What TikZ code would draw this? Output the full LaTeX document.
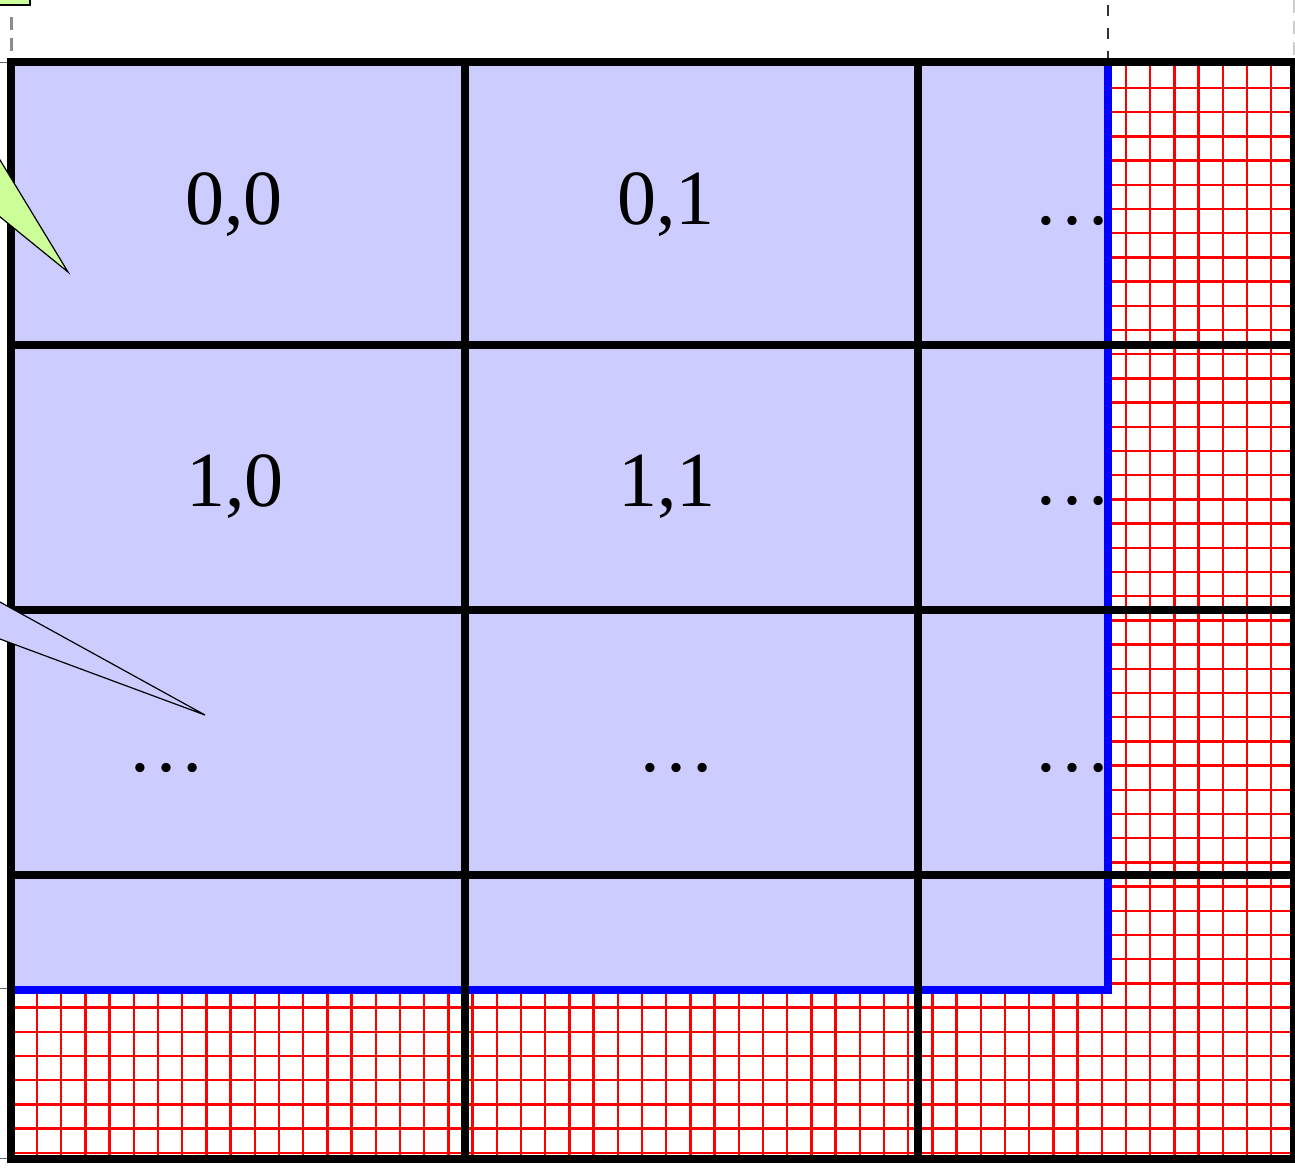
\documentclass[tikz,border=0pt]{standalone}
\usepackage{fontspec}
\setmainfont{Liberation Serif}
\definecolor{lav}{RGB}{204,204,255}
\definecolor{callgreen}{RGB}{204,255,153}
\begin{document}
\begin{tikzpicture}[x=1pt,y=-1pt,
  frameline/.style={line width=8pt,black,line cap=rect},
  bluebound/.style={line width=8pt,blue,line join=miter},
  redgrid/.style={red,line width=2.4pt},
  celltext/.style={font=\fontsize{78}{80}\selectfont,anchor=base,inner sep=0pt},
  callout/.style={draw=black,line width=1.2pt,line join=miter},
  guidegray/.style={black!45,line width=3pt,dash pattern=on 13pt off 8pt},
  guidedark/.style={black!80,line width=2.5pt,dash pattern=on 11pt off 12pt},
  tick/.style={gray!80!black,line width=1pt},
]
\useasboundingbox (0,0) rectangle (1295,1167);
\clip (0,0) rectangle (1295,1167);
\fill[white] (0,0) rectangle (1295,1167);

% red grid
\begin{scope}
  \clip (11,62) rectangle (1294,1159);
  \foreach \k in {0,...,51} \draw[redgrid] ({37+24.2*\k},62) -- ({37+24.2*\k},1159);
  \foreach \k in {0,...,44} \draw[redgrid] (11,{88+24.2*\k}) -- (1294,{88+24.2*\k});
\end{scope}

% lavender area and its blue boundary
\fill[lav] (11,62) rectangle (1108,990);
\draw[bluebound] (1108,62) -- (1108,990) -- (11,990);

% black frame
\foreach \y in {62,345,610,875,1159} \draw[frameline] (11,\y) -- (1294,\y);
\foreach \x in {11,465,918,1294} \draw[frameline] (\x,62) -- (\x,1159);

% cell texts
\node[celltext] (c00) at (234,224) {0,0};
\node[celltext] (c01) at (666,224) {0,1};
\node[celltext] (c02) at (1072,224) {…};
\node[celltext] (c10) at (235,506) {1,0};
\node[celltext] (c11) at (667,506) {1,1};
\node[celltext] (c12) at (1072,504) {…};
\node[celltext] (c20) at (166,771) {…};
\node[celltext] (c21) at (676,771) {…};
\node[celltext] (c22) at (1072,771) {…};

% callouts
\filldraw[callout,fill=callgreen] (-20,127) -- (68,272) -- (-20,200.6) -- cycle;
\filldraw[callout,fill=lav] (-20,591) -- (205,715) -- (-20,631.6) -- cycle;
\filldraw[callout,fill=callgreen] (-10,-10) rectangle (30,5);

% guides
\draw[guidegray] (11,17) -- (11,56);
\draw[guidedark] (1108,5) -- (1108,58);
\draw[guidegray,black!20] (1294,0) -- (1294,58);
\draw[tick] (0,62) -- (7,62);
\draw[tick] (0,988) -- (7,988);
\draw[tick] (0,1158) -- (7,1158);
\end{tikzpicture}
\end{document}
